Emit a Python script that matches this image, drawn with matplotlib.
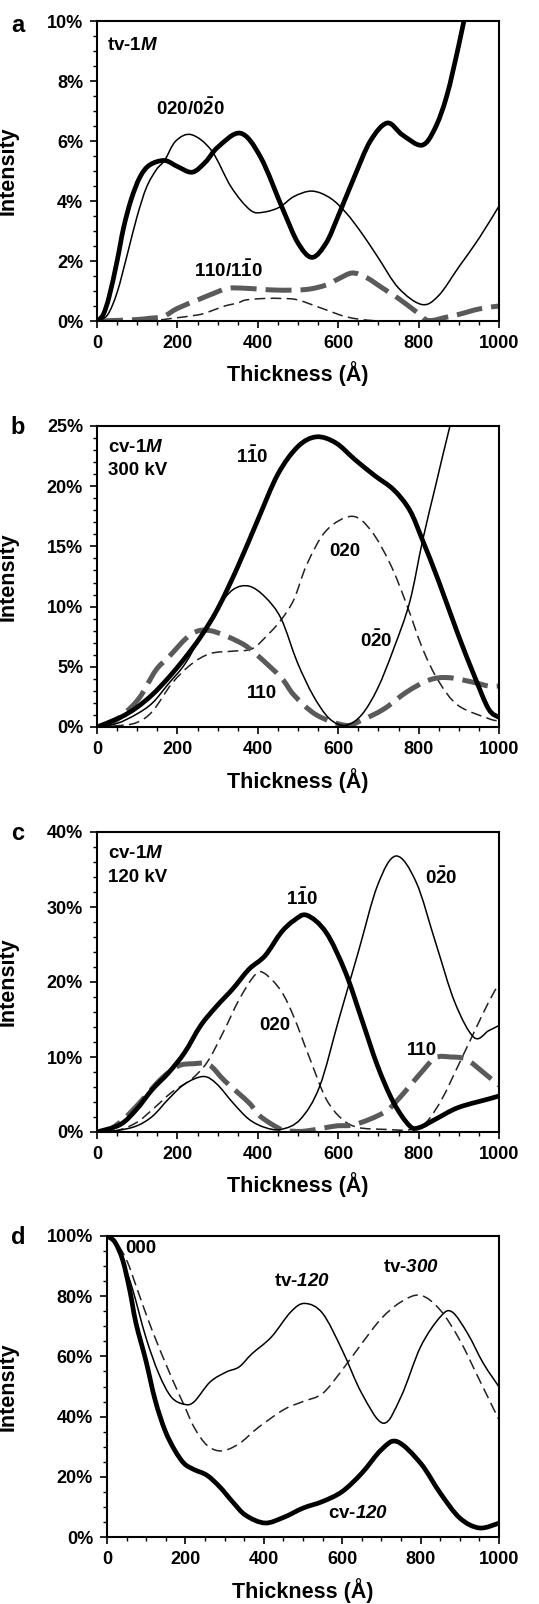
import matplotlib
matplotlib.use("Agg")
import numpy as np
import matplotlib.pyplot as plt
from matplotlib.path import Path
from matplotlib.patches import PathPatch
from matplotlib.ticker import MultipleLocator, FuncFormatter

plt.rcParams['font.family'] = ['Liberation Sans', 'DejaVu Sans']
plt.rcParams['font.weight'] = 'bold'
plt.rcParams['axes.labelweight'] = 'bold'
plt.rcParams['mathtext.fontset'] = 'custom'
plt.rcParams['mathtext.rm'] = 'Liberation Sans:bold'
plt.rcParams['mathtext.bf'] = 'Liberation Sans:bold'
plt.rcParams['mathtext.it'] = 'Liberation Sans:italic:bold'
plt.rcParams['mathtext.sf'] = 'Liberation Sans:italic:bold'

# ---- panel a : tv-1M ----
a_x_thick = [0, 15, 30, 50, 66, 85, 107, 131, 168, 200, 237, 270, 301, 357, 407, 463, 500, 535, 570, 600, 640, 680, 722, 760, 808, 840, 870, 900, 925]
a_y_thick = [0, 0.2, 0.8, 2.0, 3.1, 4.05, 4.8, 5.2, 5.35, 5.15, 4.96, 5.3, 5.8, 6.26, 5.46, 3.7, 2.6, 2.12, 2.6, 3.5, 4.8, 6.0, 6.6, 6.2, 5.86, 6.4, 7.5, 9.2, 10.8]
a_x_thin = [0, 26, 50, 75, 99, 123, 148, 168, 196, 235, 285, 334, 382, 415, 455, 490, 535, 580, 620, 660, 700, 750, 808, 850, 900, 950, 1000]
a_y_thin = [0, 0.2, 0.95, 2.2, 3.45, 4.45, 5.05, 5.35, 6.0, 6.21, 5.68, 4.46, 3.69, 3.63, 3.8, 4.15, 4.33, 4.1, 3.6, 2.9, 2.1, 1.1, 0.55, 0.85, 1.8, 2.75, 3.83]
a_x_gray = [0, 50, 100, 130, 165, 200, 250, 290, 326, 370, 447, 520, 570, 600, 635, 670, 710, 750, 790, 805, 820, 840, 860, 900, 950, 1000]
a_y_gray = [0, 0.02, 0.05, 0.09, 0.15, 0.42, 0.7, 0.92, 1.09, 1.09, 1.03, 1.05, 1.2, 1.4, 1.6, 1.45, 1.1, 0.75, 0.35, 0.2, 0.03, 0.03, 0.1, 0.22, 0.4, 0.5]
a_x_dash = [0, 100, 150, 188, 250, 277, 318, 350, 370, 415, 463, 500, 560, 620, 680, 750, 1000]
a_y_dash = [0, 0, 0.03, 0.09, 0.2, 0.3, 0.5, 0.6, 0.7, 0.75, 0.75, 0.7, 0.42, 0.14, 0.02, 0, 0]

# ---- panel b : cv-1M 300 kV ----
b_x_thick = [0, 58, 98, 138, 178, 218, 258, 300, 350, 400, 450, 500, 546, 594, 642, 690, 738, 778, 810, 850, 898, 938, 974, 1000]
b_y_thick = [0, 0.8, 1.6, 2.7, 4.1, 5.7, 7.5, 9.8, 13.3, 17.2, 21.0, 23.3, 24.1, 23.6, 22.2, 20.9, 19.7, 18.0, 15.5, 12.1, 7.7, 4.3, 1.5, 0.8]
b_x_thin = [0, 50, 98, 138, 178, 218, 258, 298, 338, 378, 418, 458, 498, 538, 578, 618, 658, 698, 738, 778, 810, 842, 878, 910]
b_y_thin = [0, 0.3, 1.06, 2.0, 3.6, 5.2, 7.5, 9.8, 11.4, 11.7, 10.8, 9.0, 5.4, 2.6, 0.7, 0.14, 1.0, 3.2, 6.5, 10.4, 15.5, 20.0, 25.0, 29.0]
b_x_dash = [0, 50, 98, 138, 186, 234, 282, 338, 386, 426, 458, 490, 522, 570, 634, 682, 730, 770, 810, 850, 898, 974, 1000]
b_y_dash = [0, 0.1, 0.36, 1.3, 3.6, 5.2, 6.1, 6.3, 6.5, 7.7, 8.9, 10.6, 13.5, 16.3, 17.5, 16.3, 13.5, 10.2, 6.5, 3.8, 1.8, 0.7, 0.5]
b_x_gray = [0, 30, 66, 106, 146, 178, 234, 282, 354, 394, 458, 490, 546, 618, 658, 714, 770, 826, 874, 938, 974, 1000]
b_y_gray = [0, 0.2, 1.06, 2.45, 4.7, 5.8, 7.7, 8.0, 7.05, 6.1, 4.1, 2.65, 1.0, 0.14, 0.56, 1.5, 2.9, 3.9, 4.1, 3.7, 3.4, 3.4]

# ---- panel c : cv-1M 120 kV ----
c_x_thick = [0, 58, 98, 138, 178, 218, 258, 298, 338, 378, 418, 458, 490, 522, 570, 618, 658, 698, 738, 778, 802, 842, 898, 974, 1000]
c_y_thick = [0, 1.0, 3.0, 5.7, 7.9, 10.6, 14.2, 16.8, 19.1, 21.7, 23.5, 26.6, 28.2, 28.9, 26.6, 21.3, 15.1, 8.8, 3.9, 0.8, 0.6, 1.7, 3.25, 4.4, 4.8]
c_x_thin = [0, 50, 98, 138, 178, 218, 265, 298, 338, 378, 418, 458, 506, 554, 602, 650, 698, 744, 794, 842, 890, 938, 974, 1000]
c_y_thin = [0, 0.2, 0.8, 2.1, 4.4, 6.4, 7.4, 6.4, 3.9, 1.7, 0.6, 0.35, 1.7, 6.1, 15.1, 24.0, 32.9, 36.8, 33.3, 25.3, 17.3, 12.6, 13.5, 14.2]
c_x_dash = [0, 50, 98, 138, 186, 234, 274, 314, 354, 394, 418, 458, 490, 530, 570, 610, 650, 715, 778, 818, 858, 898, 938, 974, 1000]
c_y_dash = [0, 0.2, 1.25, 3.0, 5.3, 7.0, 9.3, 13.3, 17.7, 21.0, 21.1, 18.8, 15.3, 9.7, 4.4, 1.7, 0.6, 0.35, 0.3, 1.25, 4.4, 8.8, 13.3, 17.3, 19.8]
c_x_gray = [0, 30, 66, 106, 158, 202, 240, 278, 318, 378, 406, 458, 490, 522, 594, 642, 714, 750, 806, 842, 880, 918, 962, 1000]
c_y_gray = [0, 0.3, 1.7, 3.9, 7.0, 8.8, 9.1, 9.0, 6.8, 3.9, 2.1, 0.35, 0.1, 0.15, 0.8, 1.0, 2.6, 4.4, 7.9, 9.9, 10.0, 9.7, 7.9, 6.2]

# ---- panel d : 000 beam ----
d_x_cv120 = [0, 20, 40, 58, 74, 99, 123, 148, 173, 197, 222, 255, 288, 321, 354, 403, 452, 500, 550, 600, 650, 700, 740, 800, 850, 900, 950, 1000]
d_y_cv120 = [100, 98, 92, 82, 71, 58.7, 45.4, 35.4, 28.8, 24.4, 22.4, 20.5, 16.6, 11.6, 7.2, 4.65, 6.6, 9.6, 11.8, 15.1, 21.2, 29, 31.7, 24.5, 14.6, 6.3, 3.0, 4.6]
d_x_tv120 = [0, 20, 45, 66, 99, 132, 164, 197, 222, 263, 304, 337, 370, 419, 469, 505, 550, 600, 650, 705, 750, 800, 850, 880, 920, 960, 1000]
d_y_tv120 = [100, 98, 90, 82, 66.4, 54.3, 46.5, 44.1, 44.9, 51.5, 54.8, 56.5, 60.9, 66.4, 74.8, 77.6, 74.3, 62.1, 47.7, 37.8, 46.6, 63.2, 73.1, 74.8, 67.6, 57.7, 49.9]
d_x_tv300 = [0, 20, 50, 78, 115, 164, 197, 222, 255, 292, 337, 387, 452, 500, 550, 600, 650, 700, 750, 800, 850, 900, 950, 1000]
d_y_tv300 = [100, 98.5, 92, 82, 68.7, 53.2, 43.7, 36.5, 30.5, 28.6, 31, 36.5, 42.4, 45, 47.7, 55.5, 64.3, 72.6, 78.1, 80.3, 75.4, 65.4, 52.2, 38.9]

THICK = dict(edgecolor='black', lw=3.4, capstyle='round', joinstyle='round')
THIN = dict(edgecolor='black', lw=1.1)
DASH = dict(edgecolor='#222222', lw=1.1, linestyle=(0, (7, 3.5)))
GRAY = dict(edgecolor='#5a5a5a', lw=3.6, linestyle=(0, (5.2, 1.8)))


def smooth_line(ax, xs, ys, **kw):
    # smoothed line through the points (like a spreadsheet "smoothed line")
    p = np.column_stack([xs, ys]).astype(float)
    verts = [p[0]]
    codes = [Path.MOVETO]
    n = len(p)
    for i in range(n - 1):
        p0 = p[i - 1] if i > 0 else p[i]
        p3 = p[i + 2] if i + 2 < n else p[i + 1]
        c1 = p[i] + (p[i + 1] - p0) / 6
        c2 = p[i + 1] - (p3 - p[i]) / 6
        verts += [c1, c2, p[i + 1]]
        codes += [Path.CURVE4] * 3
    ax.add_patch(PathPatch(Path(verts, codes), fill=False, **kw))


def style_axis(ax, ymax, ystep, yminor, left_px):
    ax.set_xlim(0, 1000)
    ax.set_ylim(0, ymax)
    ax.xaxis.set_major_locator(MultipleLocator(200))
    ax.xaxis.set_minor_locator(MultipleLocator(50))
    ax.yaxis.set_major_locator(MultipleLocator(ystep))
    ax.yaxis.set_minor_locator(MultipleLocator(yminor))
    ax.yaxis.set_major_formatter(FuncFormatter(lambda v, p: f"{v:.0f}%"))
    ax.tick_params(which='major', direction='out', length=5, width=1.2,
                   labelsize=13, pad=5)
    ax.tick_params(which='minor', direction='out', length=3, width=1.0)
    for s in ax.spines.values():
        s.set_linewidth(1.5)
    ax.set_xlabel('Thickness (Å)', fontsize=15.5)
    ax.set_ylabel('Intensity', fontsize=15.5)
    w = ax.get_position().width * 539
    ax.yaxis.set_label_coords(-(left_px - 19) / w, 0.5)
    ax.xaxis.set_label_coords(0.5, -0.135)


fig = plt.figure(figsize=(5.39, 16.04), dpi=100)
FS = 13.5

# panel a
ax = fig.add_axes([97 / 539, 1 - 321 / 1604, 402 / 539, 300 / 1604])
smooth_line(ax, a_x_dash, a_y_dash, **DASH)
smooth_line(ax, a_x_gray, a_y_gray, **GRAY)
smooth_line(ax, a_x_thin, a_y_thin, **THIN)
smooth_line(ax, a_x_thick, a_y_thick, **THICK)
style_axis(ax, 10, 2, 0.5, 97)
ax.text(0.025, 0.92, r'tv-1$\mathit{M}$', transform=ax.transAxes, fontsize=FS, va='center')
ax.text(232, 7.1, r'020/0$\bar{2}$0', fontsize=FS, ha='center', va='center')
ax.text(327, 1.68, r'110/1$\bar{1}$0', fontsize=FS, ha='center', va='center')

# panel b
ax = fig.add_axes([97 / 539, 1 - 727 / 1604, 402 / 539, 301 / 1604])
smooth_line(ax, b_x_dash, b_y_dash, **DASH)
smooth_line(ax, b_x_gray, b_y_gray, **GRAY)
smooth_line(ax, b_x_thin, b_y_thin, **THIN)
smooth_line(ax, b_x_thick, b_y_thick, **THICK)
style_axis(ax, 25, 5, 1, 97)
ax.text(0.027, 0.93, r'cv-1$\mathit{M}$', transform=ax.transAxes, fontsize=FS, va='center')
ax.text(0.027, 0.852, '300 kV', transform=ax.transAxes, fontsize=FS, va='center')
ax.text(385, 22.45, r'1$\bar{1}$0', fontsize=FS, ha='center', va='center')
ax.text(616, 14.6, '020', fontsize=FS, ha='center', va='center')
ax.text(694, 7.2, r'0$\bar{2}$0', fontsize=FS, ha='center', va='center')
ax.text(410, 2.8, '110', fontsize=FS, ha='center', va='center')

# panel c
ax = fig.add_axes([97 / 539, 1 - 1132 / 1604, 402 / 539, 300 / 1604])
smooth_line(ax, c_x_dash, c_y_dash, **DASH)
smooth_line(ax, c_x_gray, c_y_gray, **GRAY)
smooth_line(ax, c_x_thin, c_y_thin, **THIN)
smooth_line(ax, c_x_thick, c_y_thick, **THICK)
style_axis(ax, 40, 10, 2, 97)
ax.text(0.027, 0.928, r'cv-1$\mathit{M}$', transform=ax.transAxes, fontsize=FS, va='center')
ax.text(0.027, 0.848, '120 kV', transform=ax.transAxes, fontsize=FS, va='center')
ax.text(510, 31.1, r'1$\bar{1}$0', fontsize=FS, ha='center', va='center')
ax.text(856, 33.9, r'0$\bar{2}$0', fontsize=FS, ha='center', va='center')
ax.text(443, 14.2, '020', fontsize=FS, ha='center', va='center')
ax.text(808, 10.9, '110', fontsize=FS, ha='center', va='center')

# panel d
ax = fig.add_axes([107 / 539, 1 - 1537 / 1604, 392 / 539, 301 / 1604])
smooth_line(ax, d_x_tv300, d_y_tv300, **DASH)
smooth_line(ax, d_x_tv120, d_y_tv120, **THIN)
smooth_line(ax, d_x_cv120, d_y_cv120, **THICK)
style_axis(ax, 100, 20, 5, 107)
ax.text(85, 95.8, '000', fontsize=FS, ha='center', va='center')
ax.text(497, 85, r'tv-$\mathsf{120}$', fontsize=FS, ha='center', va='center')
ax.text(775, 89.4, r'tv-$\mathsf{300}$', fontsize=FS, ha='center', va='center')
ax.text(641, 7.7, r'cv-$\mathsf{120}$', fontsize=FS, ha='center', va='center')

# panel letters
for lab, ypx in [('a', 25), ('b', 427), ('c', 833), ('d', 1237)]:
    fig.text(18 / 539, 1 - ypx / 1604, lab, fontsize=17, ha='center', va='center')

fig.savefig('out.png', dpi=100)
